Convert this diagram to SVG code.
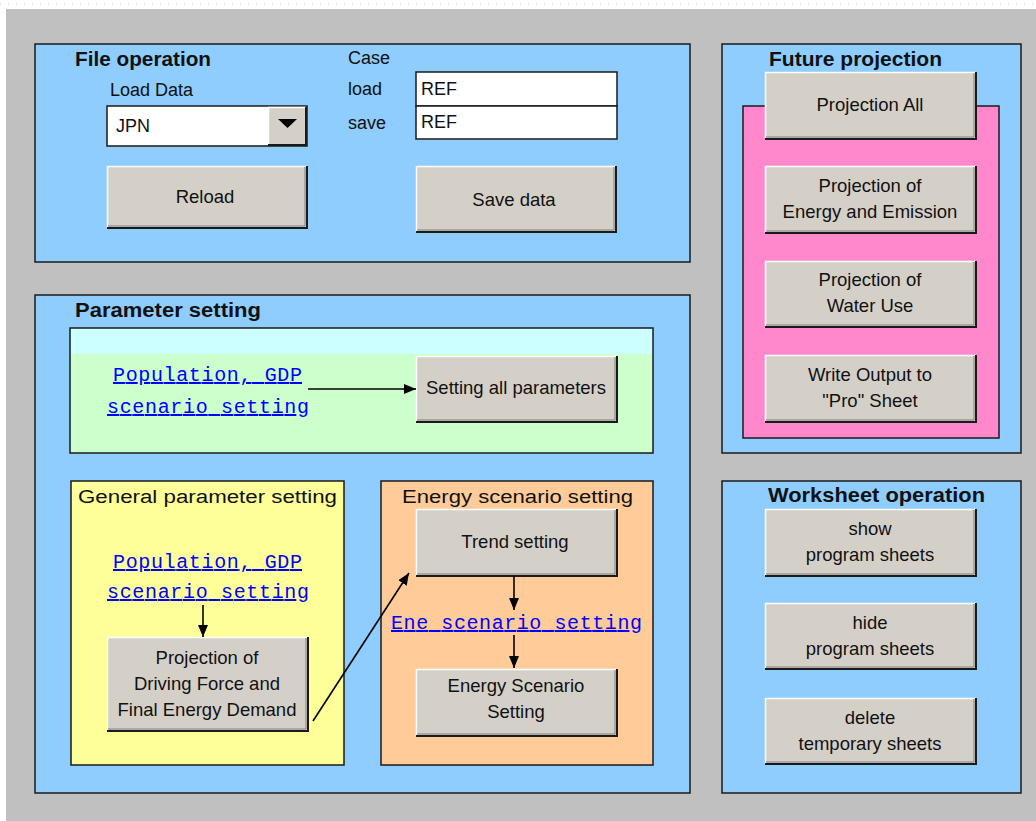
<svg xmlns="http://www.w3.org/2000/svg" width="1036" height="821" viewBox="0 0 1036 821">
<style>
text{font-family:"Liberation Sans",Arial,sans-serif;fill:#111}
.t{font-size:18px}
.title{font-size:20px;font-weight:bold}
.lbl{font-size:18px}
.bt{font-size:18.5px;text-anchor:middle}
.link{font-family:"Liberation Mono","Courier New",monospace;font-size:20px;fill:#0000ff;text-decoration:underline}
.panel{fill:#8ecdfd;stroke:#1a1a1a;stroke-width:1.5}
.btn{fill:#d4d0c8}
.hi{fill:none;stroke:#ffffff;stroke-width:1.5}
.sh{fill:none;stroke:#1a1a1a;stroke-width:2}
.sh2{fill:none;stroke:#808080;stroke-width:1}
.box{fill:#ffffff;stroke:#1a1a1a;stroke-width:1.5}
.con{stroke:#000;stroke-width:1.6;fill:none;marker-end:url(#ah)}
</style>
<defs>
<marker id="ah" viewBox="0 0 12 10" markerWidth="12" markerHeight="10" refX="12" refY="5" orient="auto" markerUnits="userSpaceOnUse">
<path d="M0,0 L12,5 L0,10 z" fill="#000"/>
</marker>
</defs>
<rect x="0" y="0" width="1036" height="821" fill="#ffffff"/>
<line x1="0" y1="4" x2="1036" y2="4" stroke="#c8c8c8" stroke-dasharray="1 7"/>
<rect x="6" y="9" width="1030" height="812" fill="#c0c0c0"/>

<g id="file-operation">
<rect class="panel" x="35" y="44" width="655" height="218"/>
<text class="title" x="75" y="66" textLength="136" lengthAdjust="spacingAndGlyphs">File operation</text>
<text class="lbl" x="110" y="96">Load Data</text>
<text class="lbl" x="348" y="64">Case</text>
<text class="lbl" x="348" y="95">load</text>
<text class="lbl" x="348" y="129">save</text>
<rect class="box" x="107" y="106" width="200" height="40"/>
<text class="lbl" x="116" y="132">JPN</text>
<rect class="btn" x="268" y="107" width="38" height="38"/>
<path class="hi" d="M268.5,145 V107.5 H306"/>
<path class="sh" d="M268,145 H306 V107"/>
<path d="M278,119 H297 L287.5,128 z" fill="#000"/>
<rect class="box" x="416" y="72" width="201" height="34"/>
<rect class="box" x="416" y="106" width="201" height="33"/>
<text class="lbl" x="421" y="95">REF</text>
<text class="lbl" x="421" y="128">REF</text>
</g>

<g id="btn-reload">
<rect class="btn" x="107" y="166" width="200" height="62"/>
<path class="hi" d="M107.5,228 V166.5 H307"/>
<path class="sh2" d="M108,226 H305 V167"/>
<path class="sh" d="M107,228 H307 V166"/>
<text class="bt" x="205" y="203">Reload</text>
</g>
<g id="btn-save">
<rect class="btn" x="416" y="166" width="200" height="66"/>
<path class="hi" d="M416.5,232 V166.5 H616"/>
<path class="sh2" d="M417,230 H614 V167"/>
<path class="sh" d="M416,232 H616 V166"/>
<text class="bt" x="514" y="206">Save data</text>
</g>

<g id="parameter-setting">
<rect class="panel" x="35" y="295" width="655" height="498"/>
<text class="title" x="75" y="317" textLength="186" lengthAdjust="spacingAndGlyphs">Parameter setting</text>
<rect x="70" y="328" width="583" height="125" fill="#ccffcc"/>
<rect x="70" y="328" width="583" height="26" fill="#ccffff"/>
<rect x="70" y="328" width="583" height="125" fill="none" stroke="#1a1a1a" stroke-width="1.5"/>
<text class="link" x="113" y="381" textLength="189" lengthAdjust="spacing">Population, GDP</text>
<text class="link" x="107" y="413" textLength="202" lengthAdjust="spacing">scenario setting</text>
</g>

<g id="btn-setting-all">
<rect class="btn" x="416" y="356" width="201" height="66"/>
<path class="hi" d="M416.5,422 V356.5 H617"/>
<path class="sh2" d="M417,420 H615 V357"/>
<path class="sh" d="M416,422 H617 V356"/>
<text class="bt" x="516" y="394">Setting all parameters</text>
</g>

<g id="general-parameter-setting">
<rect x="71" y="481" width="273" height="284" fill="#ffff99" stroke="#1a1a1a" stroke-width="1.5"/>
<text class="t" x="78" y="503" textLength="259" lengthAdjust="spacingAndGlyphs">General parameter setting</text>
<text class="link" x="113" y="568" textLength="189" lengthAdjust="spacing">Population, GDP</text>
<text class="link" x="107" y="598" textLength="202" lengthAdjust="spacing">scenario setting</text>
</g>

<g id="btn-projection-driving">
<rect class="btn" x="107" y="637" width="201" height="94"/>
<path class="hi" d="M107.5,731 V637.5 H308"/>
<path class="sh2" d="M108,729 H306 V638"/>
<path class="sh" d="M107,731 H308 V637"/>
<text class="bt" x="207" y="664">Projection of</text>
<text class="bt" x="207" y="690">Driving Force and</text>
<text class="bt" x="207" y="716">Final Energy Demand</text>
</g>

<g id="energy-scenario-setting">
<rect x="381" y="481" width="272" height="284" fill="#ffcc99" stroke="#1a1a1a" stroke-width="1.5"/>
<text class="t" x="402" y="503" textLength="231" lengthAdjust="spacingAndGlyphs">Energy scenario setting</text>
<text class="link" x="391" y="629" textLength="251" lengthAdjust="spacing">Ene scenario setting</text>
</g>

<g id="btn-trend">
<rect class="btn" x="416" y="509" width="201" height="67"/>
<path class="hi" d="M416.5,576 V509.5 H617"/>
<path class="sh2" d="M417,574 H615 V510"/>
<path class="sh" d="M416,576 H617 V509"/>
<text class="bt" x="515" y="548">Trend setting</text>
</g>
<g id="btn-energy-scenario">
<rect class="btn" x="416" y="669" width="201" height="67"/>
<path class="hi" d="M416.5,736 V669.5 H617"/>
<path class="sh2" d="M417,734 H615 V670"/>
<path class="sh" d="M416,736 H617 V669"/>
<text class="bt" x="516" y="692">Energy Scenario</text>
<text class="bt" x="516" y="718">Setting</text>
</g>

<g id="future-projection">
<rect class="panel" x="722" y="44" width="299" height="409"/>
<text class="title" x="769" y="66" textLength="173" lengthAdjust="spacingAndGlyphs">Future projection</text>
<rect x="743" y="106" width="256" height="332" fill="#ff88cc" stroke="#1a1a1a" stroke-width="1.5"/>
</g>

<g id="btn-projection-all">
<rect class="btn" x="765" y="72" width="211" height="67"/>
<path class="hi" d="M765.5,139 V72.5 H976"/>
<path class="sh2" d="M766,137 H974 V73"/>
<path class="sh" d="M765,139 H976 V72"/>
<text class="bt" x="870" y="111">Projection All</text>
</g>
<g id="btn-projection-energy">
<rect class="btn" x="765" y="166" width="211" height="67"/>
<path class="hi" d="M765.5,233 V166.5 H976"/>
<path class="sh2" d="M766,231 H974 V167"/>
<path class="sh" d="M765,233 H976 V166"/>
<text class="bt" x="870" y="192">Projection of</text>
<text class="bt" x="870" y="218">Energy and Emission</text>
</g>
<g id="btn-projection-water">
<rect class="btn" x="765" y="261" width="211" height="66"/>
<path class="hi" d="M765.5,327 V261.5 H976"/>
<path class="sh2" d="M766,325 H974 V262"/>
<path class="sh" d="M765,327 H976 V261"/>
<text class="bt" x="870" y="286">Projection of</text>
<text class="bt" x="870" y="312">Water Use</text>
</g>
<g id="btn-write-output">
<rect class="btn" x="765" y="355" width="211" height="67"/>
<path class="hi" d="M765.5,422 V355.5 H976"/>
<path class="sh2" d="M766,420 H974 V356"/>
<path class="sh" d="M765,422 H976 V355"/>
<text class="bt" x="870" y="381">Write Output to</text>
<text class="bt" x="870" y="407">"Pro" Sheet</text>
</g>

<g id="worksheet-operation">
<rect class="panel" x="722" y="481" width="299" height="312"/>
<text class="title" x="768" y="502" textLength="217" lengthAdjust="spacingAndGlyphs">Worksheet operation</text>
</g>
<g id="btn-show">
<rect class="btn" x="765" y="509" width="211" height="67"/>
<path class="hi" d="M765.5,576 V509.5 H976"/>
<path class="sh2" d="M766,574 H974 V510"/>
<path class="sh" d="M765,576 H976 V509"/>
<text class="bt" x="870" y="535">show</text>
<text class="bt" x="870" y="561">program sheets</text>
</g>
<g id="btn-hide">
<rect class="btn" x="765" y="603" width="211" height="66"/>
<path class="hi" d="M765.5,669 V603.5 H976"/>
<path class="sh2" d="M766,667 H974 V604"/>
<path class="sh" d="M765,669 H976 V603"/>
<text class="bt" x="870" y="629">hide</text>
<text class="bt" x="870" y="655">program sheets</text>
</g>
<g id="btn-delete">
<rect class="btn" x="765" y="698" width="211" height="66"/>
<path class="hi" d="M765.5,764 V698.5 H976"/>
<path class="sh2" d="M766,762 H974 V699"/>
<path class="sh" d="M765,764 H976 V698"/>
<text class="bt" x="870" y="724">delete</text>
<text class="bt" x="870" y="750">temporary sheets</text>
</g>

<g id="connectors">
<line class="con" x1="308" y1="389" x2="416" y2="389"/>
<line class="con" x1="203" y1="605" x2="203" y2="637"/>
<line class="con" x1="313" y1="721" x2="409" y2="573"/>
<line class="con" x1="514" y1="576" x2="514" y2="610"/>
<line class="con" x1="514" y1="635" x2="514" y2="668"/>
</g>
</svg>
